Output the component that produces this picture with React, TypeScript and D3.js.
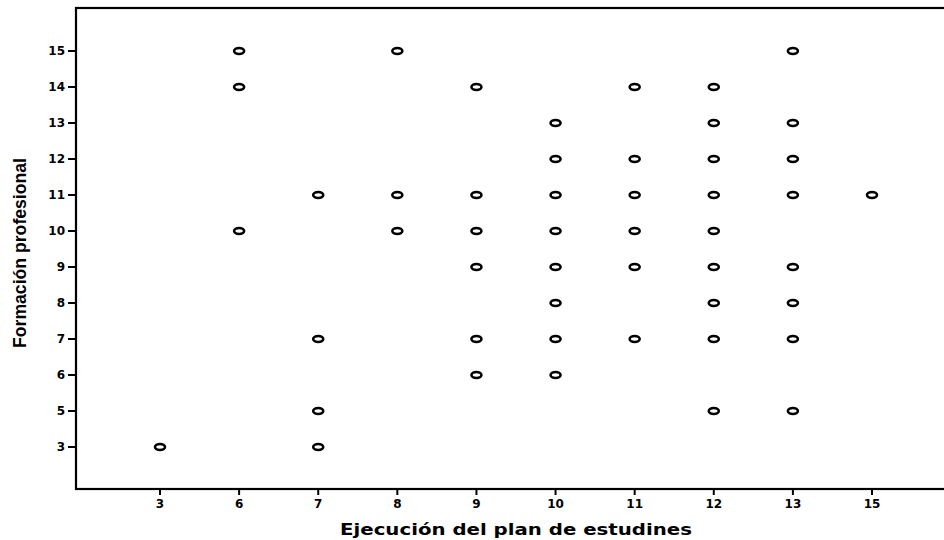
import React from "react";
import * as d3 from "d3";

const xCategories = [3, 6, 7, 8, 9, 10, 11, 12, 13, 15];
const yCategories = [3, 5, 6, 7, 8, 9, 10, 11, 12, 13, 14, 15];

// Ejecución del plan de estudines (x) and Formación profesional (y)
const ejecucion = [
  3,
  6, 6, 6,
  7, 7, 7, 7,
  8, 8, 8,
  9, 9, 9, 9, 9, 9,
  10, 10, 10, 10, 10, 10, 10, 10,
  11, 11, 11, 11, 11, 11,
  12, 12, 12, 12, 12, 12, 12, 12, 12,
  13, 13, 13, 13, 13, 13, 13, 13,
  15,
];
const formacion = [
  3,
  15, 14, 10,
  11, 7, 5, 3,
  15, 11, 10,
  14, 11, 10, 9, 7, 6,
  13, 12, 11, 10, 9, 8, 7, 6,
  14, 12, 11, 10, 9, 7,
  14, 13, 12, 11, 10, 9, 8, 7, 5,
  15, 13, 12, 11, 9, 8, 7, 5,
  11,
];

const W = 944;
const H = 540;
const left = 76;
const top = 8;
const bottom = 489;
const right = 962;

export default function App() {
  const x = d3.scalePoint<number>().domain(xCategories).range([160, 872]);
  const y = d3.scalePoint<number>().domain(yCategories).range([447, 51]);
  const tickFont = "'DejaVu Sans', Verdana, sans-serif";

  return (
    <svg
      width={W}
      height={H}
      style={{ position: "absolute", left: 0, top: 0, background: "#fff" }}
    >
      <rect x={0} y={0} width={W} height={H} fill="#fff" />
      {/* frame */}
      <rect
        x={left}
        y={top}
        width={right - left}
        height={bottom - top}
        fill="none"
        stroke="#000"
        strokeWidth={2.2}
      />
      {/* y ticks */}
      {yCategories.map((v) => (
        <g key={"y" + v}>
          <line x1={68} x2={left} y1={y(v)!} y2={y(v)!} stroke="#000" strokeWidth={2} />
          <text
            x={65}
            y={y(v)!}
            dy="0.36em"
            textAnchor="end"
            fontFamily={tickFont}
            fontWeight="bold"
            fontSize={12}
            fill="#000"
          >
            {v}
          </text>
        </g>
      ))}
      {/* x ticks */}
      {xCategories.map((v) => (
        <g key={"x" + v}>
          <line x1={x(v)!} x2={x(v)!} y1={bottom} y2={bottom + 6} stroke="#000" strokeWidth={2} />
          <text
            x={x(v)!}
            y={508}
            textAnchor="middle"
            fontFamily={tickFont}
            fontWeight="bold"
            fontSize={12}
            fill="#000"
          >
            {v}
          </text>
        </g>
      ))}
      {/* points */}
      {ejecucion.map((xv, i) => (
        <ellipse
          key={"p" + i}
          cx={x(xv)!}
          cy={y(formacion[i])!}
          rx={5}
          ry={3}
          fill="none"
          stroke="#000"
          strokeWidth={2.6}
        />
      ))}
      {/* axis titles */}
      <text
        x={516}
        y={535}
        textAnchor="middle"
        fontFamily={tickFont}
        fontWeight="bold"
        fontSize={15}
        textLength={352}
        lengthAdjust="spacingAndGlyphs"
        fill="#000"
      >
        Ejecución del plan de estudines
      </text>
      <text
        transform={`translate(26, 253) rotate(-90)`}
        textAnchor="middle"
        fontFamily="'Liberation Sans Narrow', 'Arial Narrow', 'Liberation Sans', sans-serif"
        fontWeight="bold"
        fontSize={19}
        textLength={190}
        lengthAdjust="spacingAndGlyphs"
        fill="#000"
      >
        Formación profesional
      </text>
    </svg>
  );
}
